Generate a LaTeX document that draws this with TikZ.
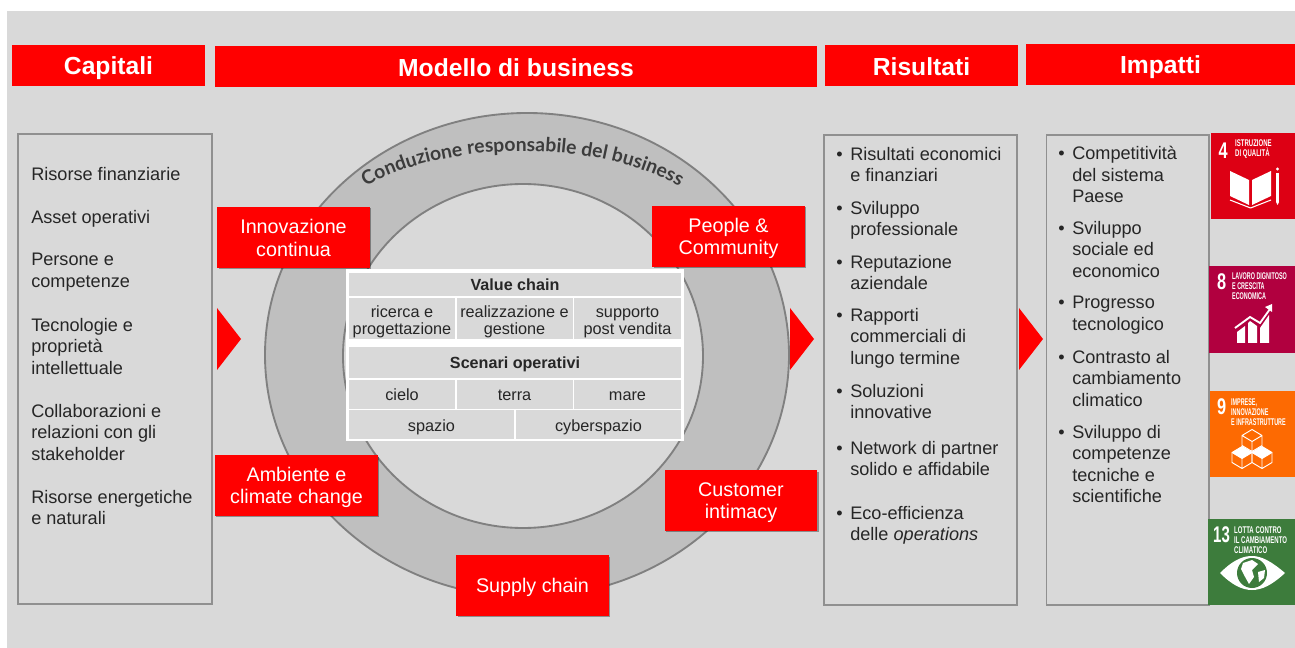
\documentclass[tikz,border=0pt]{standalone}
\usepackage{fontspec}
\setmainfont{Liberation Sans}
\newfontfamily\ringfont{Lato}
\usetikzlibrary{shadows,decorations.text}
\definecolor{bg}{HTML}{D9D9D9}
\definecolor{ringfill}{HTML}{BFBFBF}
\definecolor{ringline}{HTML}{808080}
\definecolor{boxline}{HTML}{909090}
\definecolor{txt}{HTML}{262626}
\definecolor{brand}{HTML}{FF0000}
\definecolor{sdgfour}{HTML}{DD0014}
\definecolor{sdgeight}{HTML}{B1003F}
\definecolor{sdgnine}{HTML}{FD6A02}
\definecolor{sdgthirteen}{HTML}{3D7C3C}
\newcommand{\pxfont}[2]{\fontsize{#1}{#2}\selectfont}
\newcommand{\itm}[1]{\makebox[10.5pt][l]{•}\parbox[t]{120pt}{\raggedright #1}}
% struts that keep text baselines independent of descenders
\newcommand{\hstr}[1]{\rule{0pt}{18pt}#1\rule[-3pt]{0pt}{3pt}}
\newcommand{\ptop}{\rule{0pt}{13.6pt}}
\newcommand{\pbot}{\rule[-3pt]{0pt}{3pt}}
\newcommand{\cone}[1]{\rule{0pt}{11pt}#1\rule[-2.5pt]{0pt}{2.5pt}}
\newcommand{\cmin}[1]{\rule{0pt}{12.5pt}#1\rule[-2.5pt]{0pt}{2.5pt}}
\newcommand{\ctwo}[2]{\rule{0pt}{13.5pt}#1\\#2\rule[-2.5pt]{0pt}{2.5pt}}
\tikzset{
  x=0.75pt,y=-0.75pt,
  head/.style={fill=brand,text=white,font=\pxfont{18.5}{22}\bfseries,inner sep=0,anchor=center},
  colbox/.style={draw=boxline,line width=.9pt,fill=bg},
  pill/.style={fill=brand,text=white,font=\pxfont{14.8}{17.2}\selectfont,align=center,inner sep=0,
     minimum width=114.5pt,minimum height=45.5pt,drop shadow={shadow xshift=1pt,shadow yshift=-1pt,opacity=.35,fill=black}},
  cell/.style={fill=bg,inner sep=0,text=txt,align=center,font=\pxfont{12.2}{12.5}\selectfont},
  boldcell/.style={cell,font=\pxfont{12.1}{12.5}\bfseries},
  body/.style={anchor=north west,inner sep=0,text=txt,align=left,font=\pxfont{13.6}{16.1}\selectfont},
  pointer/.style={fill=brand},
  sdghead/.style={anchor=north west,inner sep=0,text=white,font=\bfseries\pxfont{7.3}{7.5},align=left,xscale=.62},
  sdgnum/.style={anchor=west,inner sep=0,text=white,font=\bfseries\pxfont{17}{17},xscale=.72},
  icon/.style={white,line width=.8pt,line join=round}
}
\begin{document}
\begin{tikzpicture}
\useasboundingbox (0,0) rectangle (1295,648);
\fill[white] (0,0) rectangle (1295,648);
\fill[bg] (7,11) rectangle (1295,648);

% header bars
\node[head,minimum width=144.75pt,minimum height=30.75pt] (hcap) at (108.5,65.5) {\hstr{Capitali}};
\node[head,minimum width=451.5pt,minimum height=30.75pt] (hmod) at (516,66.5) {\hstr{Modello di business}};
\node[head,minimum width=144.75pt,minimum height=30.75pt] (hris) at (921.5,65.5) {\hstr{Risultati}};
\node[head,minimum width=201.75pt,minimum height=30.75pt] (himp) at (1160.5,64.5) {\hstr{Impatti}};

% columns
\draw[colbox] (18,134) rectangle (212,604);
\draw[colbox] (824,135) rectangle (1017,605);
\draw[colbox] (1046.5,135) rectangle (1209,605);

% ring
\fill[ringfill,even odd rule] (527,355) ellipse [x radius=262,y radius=242] (523,356) ellipse [x radius=180,y radius=172];
\draw[ringline,line width=1.4pt] (527,355) ellipse [x radius=262,y radius=242];
\draw[ringline,line width=1.4pt] (523,356) ellipse [x radius=180,y radius=172];
\path[decorate,decoration={text along path,text align=center,
   text={|\ringfont\bfseries\pxfont{14.5}{15}\color{txt!90}|Conduzione responsabile del business}}]
   (350,197) .. controls (430,136) and (615,136) .. (695,197);

% central panel
\fill[white] (345.5,269) rectangle (684,441);
\node[boldcell,minimum width=249pt,minimum height=17.25pt] (vc) at (515,284.5) {\cone{Value chain}};
\node[cell,minimum width=79.5pt,minimum height=30.75pt] (r1) at (402,318.5) {\ctwo{ricerca e}{progettazione}};
\node[cell,minimum width=87pt,minimum height=30.75pt] (r2) at (514.5,318.5) {\ctwo{realizzazione e}{gestione}};
\node[cell,minimum width=80.25pt,minimum height=30.75pt] (r3) at (627.5,318.5) {\ctwo{supporto}{post vendita}};
\node[boldcell,minimum width=249pt,minimum height=23.25pt] (so) at (515,362.5) {\cone{Scenari operativi}};
\node[cell,minimum width=79.5pt,minimum height=21.5pt] (s1) at (402,394.3) {\cmin{cielo}};
\node[cell,minimum width=87pt,minimum height=21.5pt] (s2) at (514.5,394.3) {\cmin{terra}};
\node[cell,minimum width=80.25pt,minimum height=21.5pt] (s5) at (627.5,394.3) {\cmin{mare}};
\node[cell,minimum width=123.75pt,minimum height=21.5pt] (s3) at (431.5,424.4) {\cmin{spazio}};
\node[cell,minimum width=123.75pt,minimum height=21.5pt] (s4) at (598.5,424.4) {\cmin{cyberspazio}};

% red pills
\node[pill] (p1) at (293.5,237.5) {\ptop Innovazione\\continua\pbot};
\node[pill] (p2) at (728.5,236.5) {\ptop People \&\\Community\pbot};
\node[pill,minimum width=122.25pt] (p3) at (296.5,485.5) {\ptop Ambiente e\\climate change\pbot};
\node[pill] (p4) at (741,500.5) {\ptop Customer\\intimacy\pbot};
\node[pill] (p5) at (532.5,585.5) {\ptop Supply chain\pbot};

% pointers
\fill[pointer] (217,308) -- (241,339) -- (217,370) -- cycle;
\fill[pointer] (790,308) -- (814,339) -- (790,370) -- cycle;
\fill[pointer] (1019,308) -- (1043,339) -- (1019,370) -- cycle;

% left column
\node[body] (c1) at (31,167) {Risorse finanziarie};
\node[body] (c2) at (31,210) {Asset operativi};
\node[body] (c3) at (31,253) {Persone e\\competenze};
\node[body] (c4) at (31,318) {Tecnologie e\\proprietà\\intellettuale};
\node[body] (c5) at (31,404) {Collaborazioni e\\relazioni con gli\\stakeholder};
\node[body] (c6) at (31,490) {Risorse energetiche\\e naturali};

% results
\node[body] (m1) at (836,147) {\itm{Risultati economici\\e finanziari}};
\node[body] (m2) at (836,201) {\itm{Sviluppo\\professionale}};
\node[body] (m3) at (836,255) {\itm{Reputazione\\aziendale}};
\node[body] (m4) at (836,308) {\itm{Rapporti\\commerciali di\\lungo termine}};
\node[body] (m5) at (836,384) {\itm{Soluzioni\\innovative}};
\node[body] (m6) at (836,441) {\itm{Network di partner\\solido e affidabile}};
\node[body] (m7) at (836,506) {\itm{Eco-efficienza\\delle \textit{operations}}};

% impacts
\node[body] (i1) at (1058,146) {\itm{Competitività\\del sistema\\Paese}};
\node[body] (i2) at (1058,221) {\itm{Sviluppo\\sociale ed\\economico}};
\node[body] (i3) at (1058,296) {\itm{Progresso\\tecnologico}};
\node[body] (i4) at (1058,350) {\itm{Contrasto al\\cambiamento\\climatico}};
\node[body] (i5) at (1058,425) {\itm{Sviluppo di\\competenze\\tecniche e\\scientifiche}};

% SDG 4
\fill[sdgfour] (1211,133) rectangle (1295,219);
\node[sdgnum] (n4) at (1218.5,151) {4};
\node[sdghead] (t4) at (1235,139.5) {ISTRUZIONE\\DI QUALITÀ};
\fill[white] (1230,171) -- (1249,180) -- (1249,205) -- (1230,196) -- cycle;
\fill[white] (1252,180) -- (1271,171) -- (1271,196) -- (1252,205) -- cycle;
\draw[icon] (1230,200) -- (1250.5,208) -- (1271,200);
\fill[white] (1276,173) rectangle (1279,202);
\fill[white] (1276,202) -- (1279,202) -- (1277.5,205) -- cycle;
\fill[white] (1277.5,169) circle [radius=1.7];

% SDG 8
\fill[sdgeight] (1209,266) rectangle (1295,353);
\node[sdgnum] (n8) at (1217,281.5) {8};
\node[sdghead,xscale=.9] (t8) at (1232,272) {LAVORO DIGNITOSO\\E CRESCITA\\ECONOMICA};
\fill[white] (1237,343) -- (1237,332) -- (1245,326) -- (1245,343) -- cycle;
\fill[white] (1248,343) -- (1248,323) -- (1250,321) -- (1257,326) -- (1257,343) -- cycle;
\fill[white] (1260,343) -- (1260,328) -- (1269,315) -- (1269,343) -- cycle;
\draw[white,line width=1.4pt] (1235,328) -- (1250,317) -- (1260,323) -- (1270,309);
\fill[white] (1265,307) -- (1272,304) -- (1272,312) -- cycle;

% SDG 9
\fill[sdgnine] (1210,390.5) rectangle (1295,477);
\node[sdgnum] (n9) at (1217,406.5) {9};
\node[sdghead,xscale=.9] (t9) at (1231,398) {IMPRESE,\\INNOVAZIONE\\E INFRASTRUTTURE};
\begin{scope}[shift={(-2,-1.5)},white,line width=.7pt,line join=round]
  \draw (1254,431) -- (1264,437) -- (1254,443) -- (1244,437) -- cycle (1244,437) -- (1244,447) -- (1254,453) -- (1264,447) -- (1264,437) (1254,443) -- (1254,453);
  \filldraw[fill=white] (1244,448) -- (1254,454) -- (1244,460) -- (1234,454) -- cycle;
  \draw (1234,454) -- (1234,464) -- (1244,470) -- (1254,464) -- (1254,454) (1244,460) -- (1244,470);
  \filldraw[fill=white] (1264,448) -- (1274,454) -- (1264,460) -- (1254,454) -- cycle;
  \draw (1254,454) -- (1254,464) -- (1264,470) -- (1274,464) -- (1274,454) (1264,460) -- (1264,470);
\end{scope}

% SDG 13
\fill[sdgthirteen] (1208,519) rectangle (1295,605);
\node[sdgnum,xscale=.66/.72] (n13) at (1213,535) {13};
\node[sdghead] (t13) at (1234,526) {LOTTA CONTRO\\IL CAMBIAMENTO\\CLIMATICO};
\fill[white] (1220,573) .. controls (1235,558) and (1245,556) .. (1252,556)
   .. controls (1262,556) and (1272,562) .. (1285,573)
   .. controls (1272,585) and (1262,590) .. (1252,590)
   .. controls (1242,590) and (1232,585) .. (1220,573) -- cycle;
\fill[sdgthirteen] (1252,573) circle [radius=15];
\fill[white] (1243,563) -- (1252,560) -- (1258,564) -- (1252,570) -- (1254,577) -- (1249,584) -- (1244,575) -- (1241,569) -- cycle;
\fill[white] (1258,572) -- (1265,570) -- (1264,578) -- (1259,582) -- cycle;
\end{tikzpicture}
\end{document}
